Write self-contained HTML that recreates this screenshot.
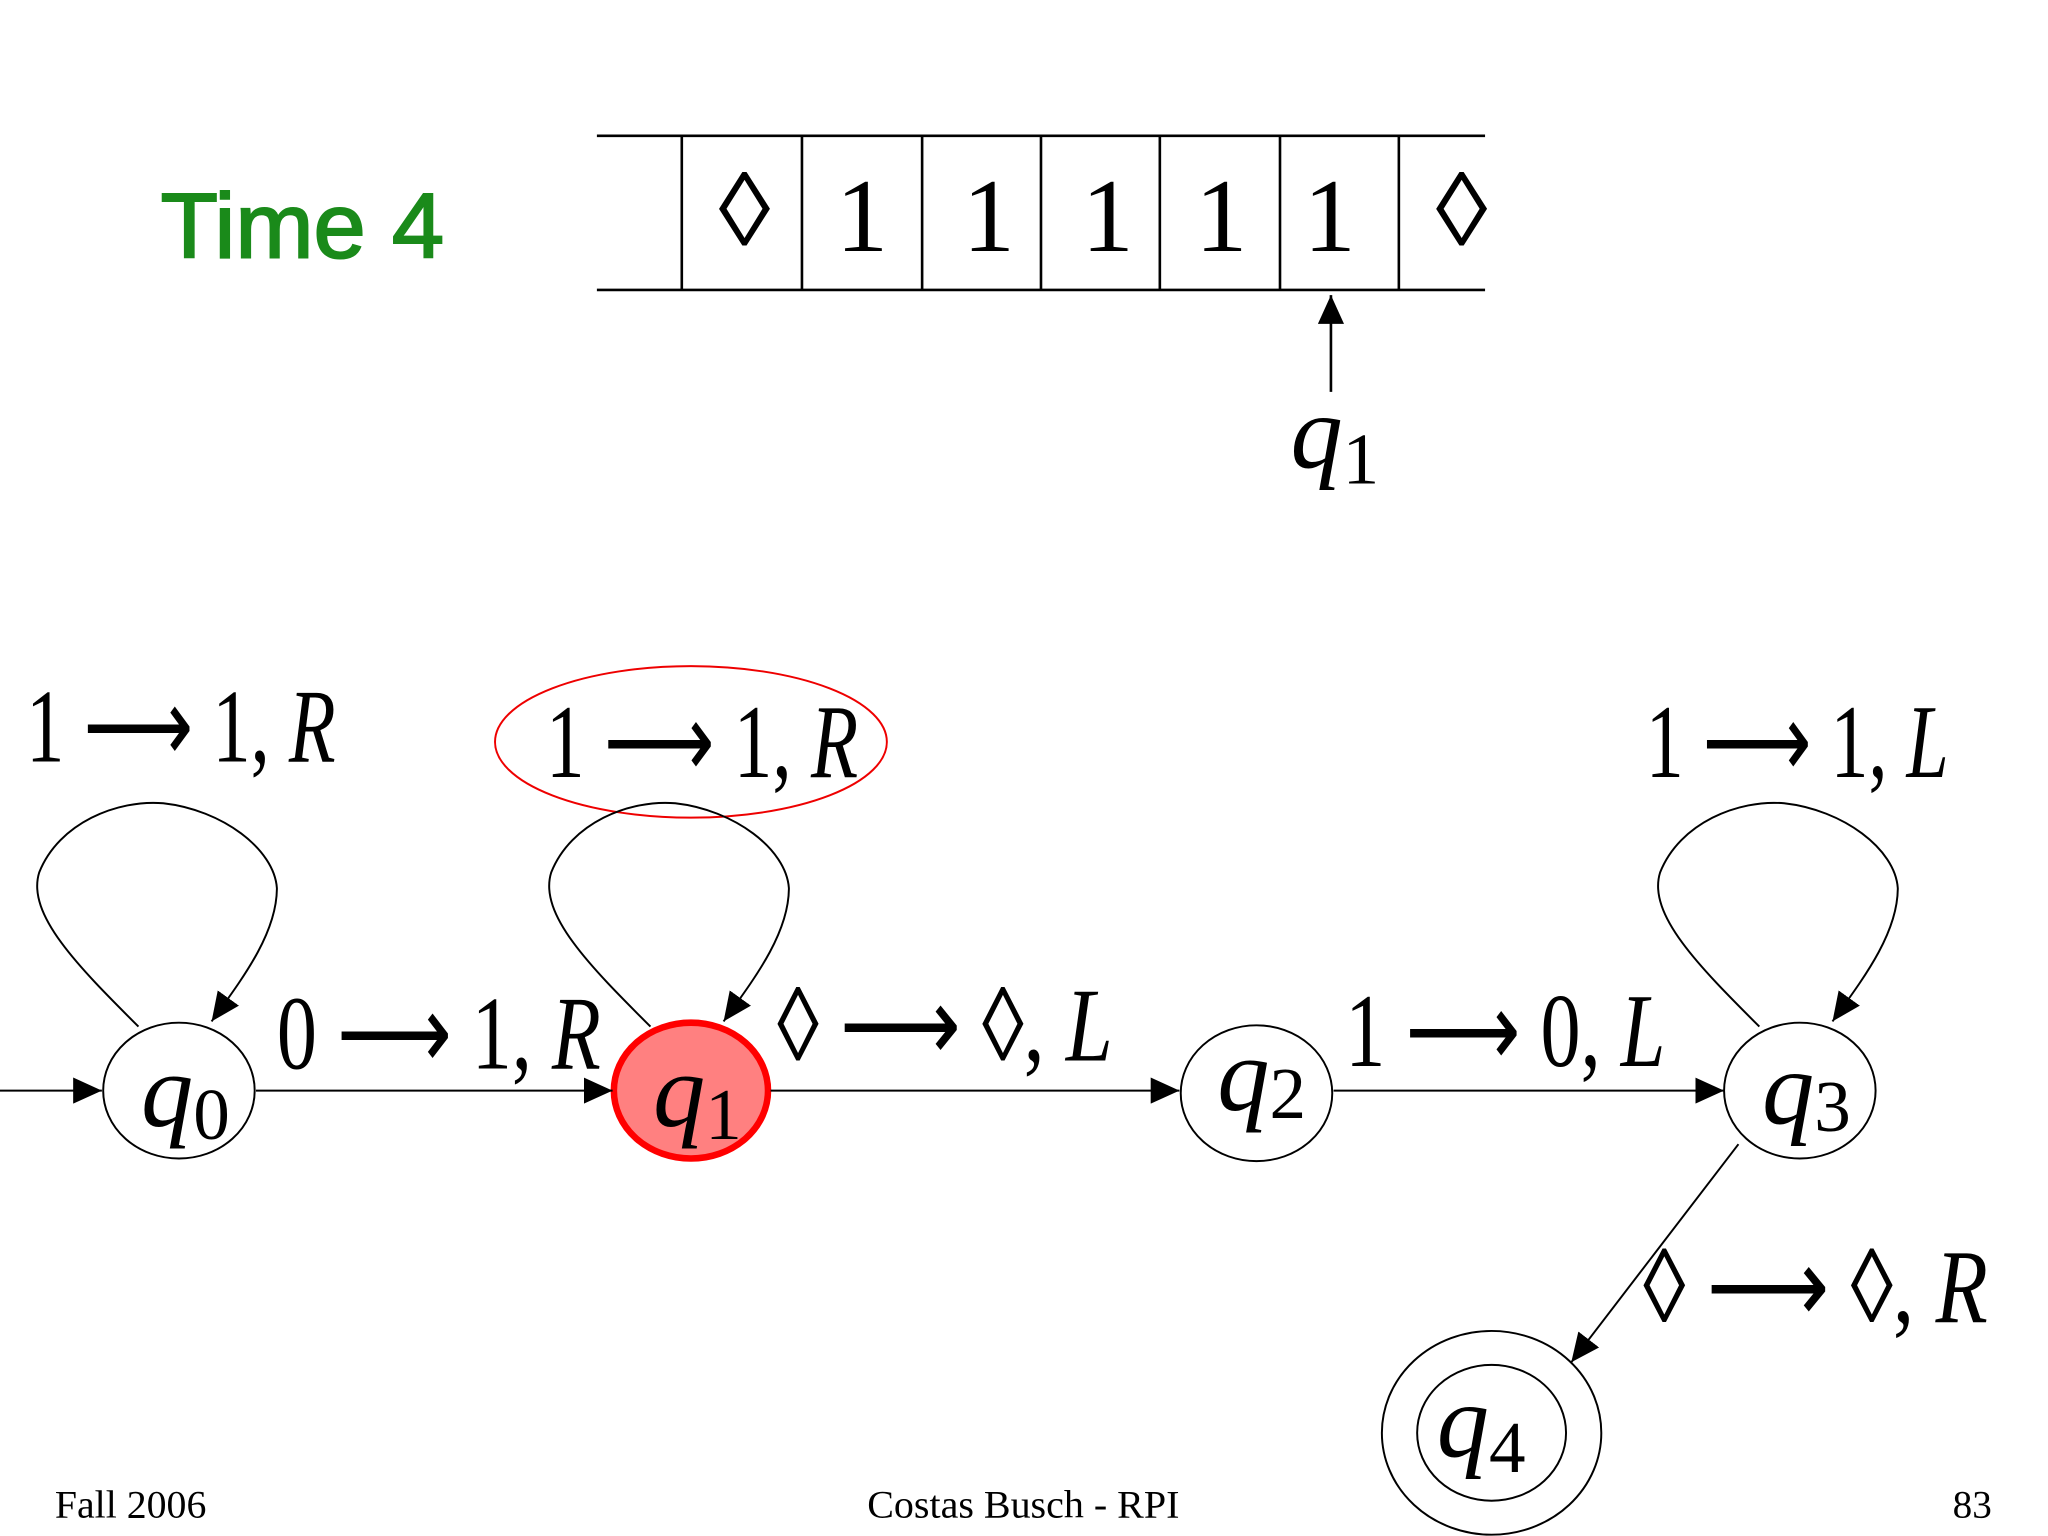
<!DOCTYPE html>
<html><head><style>
html,body{margin:0;padding:0;background:#fff;}
svg{display:block;}
text{font-family:"Liberation Serif",serif;fill:#000;}
</style></head><body>
<svg width="2048" height="1536" viewBox="0 0 1568 1176" xmlns="http://www.w3.org/2000/svg">
<defs>
<marker id="b" markerWidth="22" markerHeight="20" refX="22" refY="10" orient="auto" markerUnits="userSpaceOnUse">
<path d="M0,0 L22,10 L0,20 z" fill="#000"/></marker>
</defs>
<rect width="1568" height="1176" fill="#fff"/>
<text x="123" y="197" font-size="70" textLength="217" lengthAdjust="spacingAndGlyphs" style="fill:#1a8a1a;stroke:#1a8a1a;stroke-width:1.5;font-family:'Liberation Sans',sans-serif">Time 4</text>
<g stroke="#000" stroke-width="2" fill="none">
<line x1="457" y1="104" x2="1137" y2="104"/>
<line x1="457" y1="222" x2="1137" y2="222"/>
<line x1="522" y1="104" x2="522" y2="222"/>
<line x1="614" y1="104" x2="614" y2="222"/>
<line x1="706" y1="104" x2="706" y2="222"/>
<line x1="797" y1="104" x2="797" y2="222"/>
<line x1="888" y1="104" x2="888" y2="222"/>
<line x1="980" y1="104" x2="980" y2="222"/>
<line x1="1071" y1="104" x2="1071" y2="222"/>
<line x1="1019" y1="300" x2="1019" y2="226" marker-end="url(#b)"/>
</g>
<g font-size="80" text-anchor="middle">
<text x="570" y="188">◊</text><text x="660" y="192">1</text><text x="757" y="192">1</text>
<text x="848" y="192">1</text><text x="935" y="192">1</text><text x="1018" y="192">1</text><text x="1119" y="188">◊</text>
</g>
<text x="988" y="358" font-size="80"><tspan font-style="italic">q</tspan><tspan font-size="56" dy="12">1</tspan></text>
<g stroke="#000" stroke-width="1.5" fill="none">
<ellipse cx="137" cy="835" rx="58" ry="52"/>
<ellipse cx="529" cy="835" rx="59" ry="52" fill="#ff8080" stroke="#f00" stroke-width="5"/>
<ellipse cx="962" cy="837" rx="58" ry="52"/>
<ellipse cx="1378" cy="835" rx="58" ry="52"/>
<ellipse cx="1142" cy="1097" rx="84" ry="78"/>
<ellipse cx="1142" cy="1097" rx="57" ry="52"/>
<ellipse cx="529" cy="568" rx="150" ry="58" stroke="#e00" stroke-width="1.5"/>
<line x1="0" y1="835" x2="78" y2="835" marker-end="url(#b)"/>
<line x1="196" y1="835" x2="469" y2="835" marker-end="url(#b)"/>
<line x1="590" y1="835" x2="903" y2="835" marker-end="url(#b)"/>
<line x1="1021" y1="835" x2="1320" y2="835" marker-end="url(#b)"/>
<line x1="1331" y1="876" x2="1203" y2="1043" marker-end="url(#b)"/>
<path d="M106,786 C60,740 20,700 30,668 C45,630 90,612 125,615 C170,620 210,650 212,680 C212,715 185,750 162,782" marker-end="url(#b)"/>
<path d="M498,786 C452,740 412,700 422,668 C437,630 482,612 517,615 C562,620 602,650 604,680 C604,715 577,750 554,782" marker-end="url(#b)"/>
<path d="M1347,786 C1301,740 1261,700 1271,668 C1286,630 1331,612 1366,615 C1411,620 1451,650 1453,680 C1453,715 1426,750 1403,782" marker-end="url(#b)"/>
</g>
<g font-size="80">
<text x="108" y="862"><tspan font-style="italic">q</tspan><tspan font-size="56" dy="10">0</tspan></text>
<text x="500" y="862"><tspan font-style="italic">q</tspan><tspan font-size="56" dy="10">1</tspan></text>
<text x="932" y="850"><tspan font-style="italic">q</tspan><tspan font-size="56" dy="6">2</tspan></text>
<text x="1349" y="860"><tspan font-style="italic">q</tspan><tspan font-size="56" dy="6">3</tspan></text>
<text x="1100" y="1115"><tspan font-style="italic">q</tspan><tspan font-size="56" dy="12">4</tspan></text>
</g>
<g font-size="80">
<text x="20" y="583" textLength="237" lengthAdjust="spacingAndGlyphs">1 ⟶ 1, <tspan font-style="italic">R</tspan></text>
<text x="418" y="595" textLength="239" lengthAdjust="spacingAndGlyphs">1 ⟶ 1, <tspan font-style="italic">R</tspan></text>
<text x="1260" y="595" textLength="232" lengthAdjust="spacingAndGlyphs">1 ⟶ 1, <tspan font-style="italic">L</tspan></text>
<text x="212" y="818" textLength="248" lengthAdjust="spacingAndGlyphs">0 ⟶ 1, <tspan font-style="italic">R</tspan></text>
<text x="595" y="812" textLength="257" lengthAdjust="spacingAndGlyphs">◊ ⟶ ◊, <tspan font-style="italic">L</tspan></text>
<text x="1030" y="816" textLength="245" lengthAdjust="spacingAndGlyphs">1 ⟶ 0, <tspan font-style="italic">L</tspan></text>
<text x="1258" y="1012" textLength="264" lengthAdjust="spacingAndGlyphs">◊ ⟶ ◊, <tspan font-style="italic">R</tspan></text>
</g>
<g font-size="30">
<text x="42" y="1162" textLength="116" lengthAdjust="spacingAndGlyphs">Fall 2006</text>
<text x="664" y="1162" textLength="239" lengthAdjust="spacingAndGlyphs">Costas Busch - RPI</text>
<text x="1525" y="1162" text-anchor="end">83</text>
</g>
</svg>
</body></html>
